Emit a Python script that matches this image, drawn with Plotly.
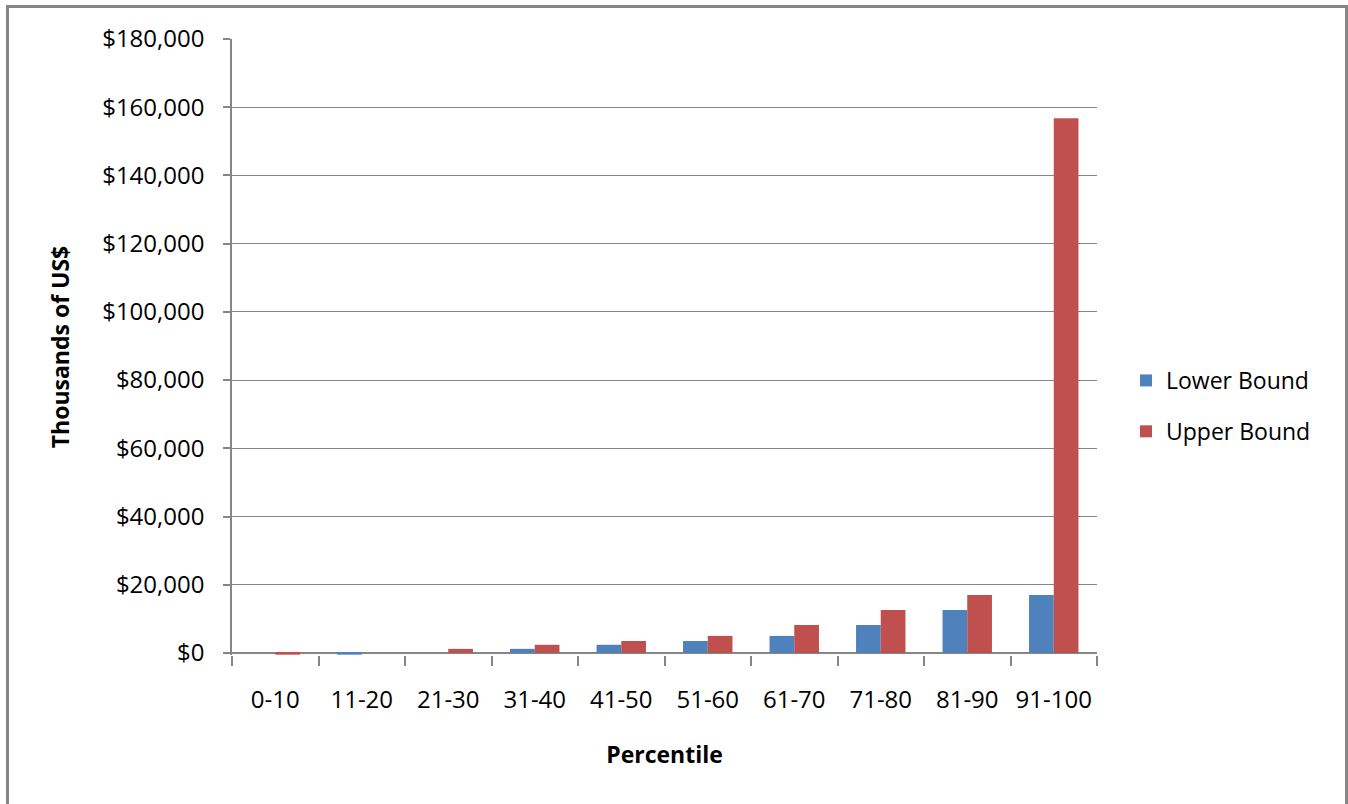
import plotly.graph_objects as go

categories = ["0-10", "11-20", "21-30", "31-40", "41-50", "51-60", "61-70", "71-80", "81-90", "91-100"]
lower_bound = [0, -500, 0, 1200, 2400, 3500, 5000, 8200, 12600, 17000]
upper_bound = [-500, 0, 1200, 2400, 3500, 5000, 8200, 12600, 17000, 156800]

W, H = 1348, 804
L, R, T = 232, 251, 39
ymin, ymax = -600, 180000
zero_px = 653
top_px = 39
plot_h = (zero_px - top_px) * (ymax - ymin) / ymax
B = H - T - plot_h
plot_w = W - L - R

def px_x(x):
    return (x - L) / plot_w

def px_y(y):
    return (T + plot_h - y) / plot_h

FONT = "Open Sans"
GRID = "#868686"

fig = go.Figure()
fig.add_trace(go.Bar(name="Lower Bound", x=categories, y=lower_bound,
                     marker=dict(color="#4F81BD", line=dict(width=0)), legendgroup="a"))
fig.add_trace(go.Bar(name="Upper Bound", x=categories, y=upper_bound,
                     marker=dict(color="#C0504D", line=dict(width=0)), legendgroup="b"))

fig.update_layout(
    width=W, height=H,
    margin=dict(l=L, r=R, t=T, b=B, autoexpand=False),
    paper_bgcolor="white", plot_bgcolor="white",
    barmode="group", bargap=0.4286, bargroupgap=0,
    font=dict(family=FONT, size=23, color="#000000"),
    legend=dict(x=px_x(1126), y=px_y(359), xanchor="left", yanchor="top",
                traceorder="grouped", tracegroupgap=18,
                font=dict(family=FONT, size=23, color="#000000"),
                bgcolor="rgba(0,0,0,0)"),
    showlegend=True,
)
fig.update_xaxes(
    type="category", showgrid=False, showline=False,
    ticks="outside", tickson="boundaries", ticklen=10, tickcolor=GRID, tickwidth=1.5,
    tickfont=dict(family=FONT, size=24), ticklabelstandoff=28,
    title=dict(text="<b>Percentile</b>", font=dict(family=FONT, size=23), standoff=32),
)
fig.update_yaxes(
    range=[ymin, ymax], tick0=0, dtick=20000, tickprefix="$", tickformat=",",
    showgrid=True, gridcolor=GRID, gridwidth=1,
    zeroline=True, zerolinecolor=GRID, zerolinewidth=1.5,
    showline=True, linecolor=GRID, linewidth=1.5,
    ticks="outside", ticklen=7, tickcolor=GRID, tickwidth=1.5,
    tickfont=dict(family=FONT, size=24), ticklabelstandoff=14,
    title=dict(text="<b>Thousands of US$</b>", font=dict(family=FONT, size=23), standoff=26),
)

fig.add_shape(type="rect", xref="paper", yref="paper",
              x0=px_x(7.5), x1=px_x(1346.5), y0=px_y(815), y1=px_y(6.5),
              line=dict(color=GRID, width=3), fillcolor="rgba(0,0,0,0)", layer="above")

fig.write_html("out.html", config={"displayModeBar": False},
               post_script="document.body.style.margin='0';document.body.style.overflow='hidden';")
